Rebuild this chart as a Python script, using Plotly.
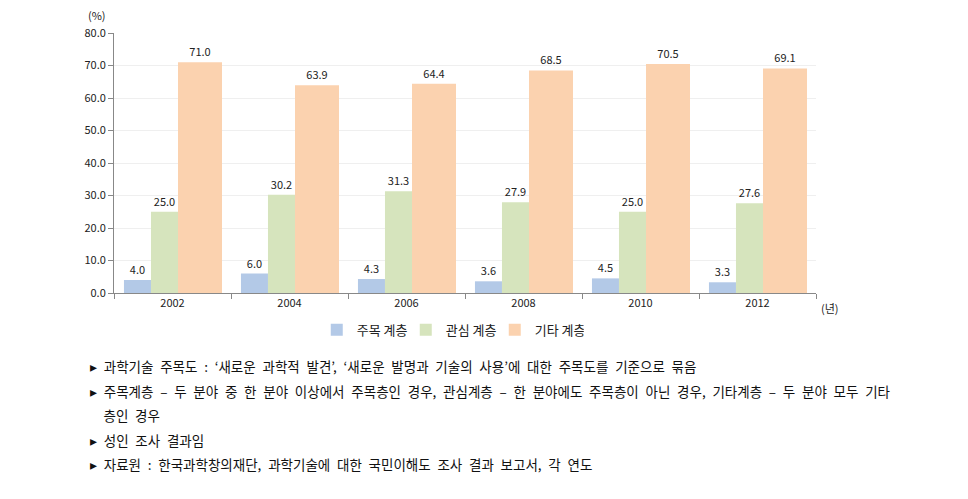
import plotly.graph_objects as go

years = ["2002", "2004", "2006", "2008", "2010", "2012"]
series_names = ["주목 계층", "관심 계층", "기타 계층"]
attentive = [4.0, 6.0, 4.3, 3.6, 4.5, 3.3]
interested = [25.0, 30.2, 31.3, 27.9, 25.0, 27.6]
other = [71.0, 63.9, 64.4, 68.5, 70.5, 69.1]
y_ticks = [0, 10, 20, 30, 40, 50, 60, 70, 80]
notes = [
    "▸ 과학기술 주목도 : ‘새로운 과학적 발견’, ‘새로운 발명과 기술의 사용’에 대한 주목도를 기준으로 묶음",
    "▸ 주목계층 – 두 분야 중 한 분야 이상에서 주목층인 경우, 관심계층 – 한 분야에도 주목층이 아닌 경우, 기타계층 – 두 분야 모두 기타",
    "  층인 경우",
    "▸ 성인 조사 결과임",
    "▸ 자료원 : 한국과학창의재단, 과학기술에 대한 국민이해도 조사 결과 보고서, 각 연도",
]

FONT = "Noto Sans CJK KR"
colors = ["#B3C9E7", "#D6E4BD", "#FBD2AF"]
values = [attentive, interested, other]
offsets = [-0.415, -0.184, 0.047]
widths = [0.231, 0.231, 0.376]

fig = go.Figure()
for name, vals, col, off, w in zip(series_names, values, colors, offsets, widths):
    fig.add_trace(go.Bar(
        x=years, y=vals, name=name, marker_color=col, marker_line_width=0,
        offset=off, width=w,
        text=[f"{v:.1f}" for v in vals], textposition="outside",
        textfont=dict(size=11, color="#222", family=FONT),
        cliponaxis=False,
    ))

# page body has an 8px margin, so the figure starts at (8, 8) on screen
fig.update_layout(
    width=952, height=483,
    margin=dict(l=106, r=144, t=25, b=198),
    plot_bgcolor="white", paper_bgcolor="white",
    barmode="overlay",
    font=dict(family=FONT, size=11, color="#222"),
    legend=dict(orientation="h", x=0.479, xanchor="center", y=-0.142, yanchor="middle",
                font=dict(size=13, family=FONT, color="#222"), itemwidth=30,
                entrywidth=44, entrywidthmode="pixels", tracegroupgap=0),
    showlegend=True,
)
fig.update_xaxes(
    type="category", showline=True, linecolor="#888", linewidth=1,
    ticks="outside", tickson="boundaries", ticklen=5, tickcolor="#888",
    showgrid=False, tickfont=dict(size=11, family=FONT, color="#222"),
)
fig.update_yaxes(
    range=[0, 80], tickvals=y_ticks, ticktext=[f"{t:.1f}" for t in y_ticks],
    showline=True, linecolor="#888", linewidth=1,
    ticks="outside", ticklen=5, tickcolor="#888",
    showgrid=True, gridcolor="#EFEFEF", zeroline=False,
    tickfont=dict(size=11, family=FONT, color="#222"),
)

fig.add_annotation(text="(%)", xref="paper", yref="paper", x=(97 - 114) / 702, y=(293 - 15) / 260,
                   xanchor="center", yanchor="middle",
                   showarrow=False, font=dict(size=11, family=FONT, color="#222"))
fig.add_annotation(text="(년)", xref="paper", yref="paper", x=(830 - 114) / 702, y=(293 - 308) / 260,
                   xanchor="center", yanchor="middle",
                   showarrow=False, font=dict(size=11, family=FONT, color="#222"))

EN_SPACE = "\u2002"
line_y = [366, 391, 415, 440, 464]
for txt, py in zip(notes, line_y):
    shown = txt.replace(" ", EN_SPACE)
    fig.add_annotation(text=shown, xref="paper", yref="paper", x=(88 - 114) / 702, y=(293 - py) / 260,
                       xanchor="left", yanchor="middle", showarrow=False,
                       font=dict(size=13.5, family=FONT, color="#111"))

fig.write_html("out.html")
